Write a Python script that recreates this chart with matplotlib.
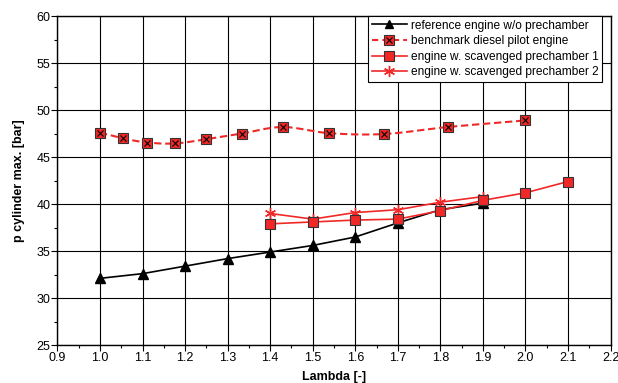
import numpy as np
import matplotlib.pyplot as plt
import matplotlib.ticker as ticker
from matplotlib.lines import Line2D

plt.rcParams["font.family"] = ["Liberation Sans", "DejaVu Sans"]

# data
ref_lambda = [1.0, 1.1, 1.2, 1.3, 1.4, 1.5, 1.6, 1.7, 1.8, 1.9]
ref_p      = [32.1, 32.6, 33.4, 34.2, 34.9, 35.6, 36.5, 38.0, 39.4, 40.1]

bench_lambda = [1.0, 1.053, 1.111, 1.176, 1.25, 1.333, 1.429, 1.538, 1.667, 1.818, 2.0]
bench_p      = [47.6, 47.0, 46.55, 46.45, 46.9, 47.5, 48.2, 47.55, 47.45, 48.2, 48.9]

pc1_lambda = [1.4, 1.5, 1.6, 1.7, 1.8, 1.9, 2.0, 2.1]
pc1_p      = [37.9, 38.1, 38.3, 38.4, 39.3, 40.4, 41.2, 42.4]

pc2_lambda = [1.4, 1.5, 1.6, 1.7, 1.8, 1.9]
pc2_p      = [39.0, 38.4, 39.1, 39.4, 40.2, 40.8]

labels = ["reference engine w/o prechamber",
          "benchmark diesel pilot engine",
          "engine w. scavenged prechamber 1",
          "engine w. scavenged prechamber 2"]

RED = "#f02828"


def catmull_rom(x, y, n=20):
    """Smooth curve through the points (drawing only, like a spreadsheet smoothed line)."""
    x = np.asarray(x, float)
    y = np.asarray(y, float)
    px = np.concatenate([[2 * x[0] - x[1]], x, [2 * x[-1] - x[-2]]])
    py = np.concatenate([[2 * y[0] - y[1]], y, [2 * y[-1] - y[-2]]])
    t = np.linspace(0, 1, n)[:, None]
    xs, ys = [], []
    for i in range(1, len(px) - 2):
        for p, out in ((px, xs), (py, ys)):
            p0, p1, p2, p3 = p[i - 1], p[i], p[i + 1], p[i + 2]
            seg = 0.5 * (2 * p1 + (-p0 + p2) * t + (2 * p0 - 5 * p1 + 4 * p2 - p3) * t ** 2
                         + (-p0 + 3 * p1 - 3 * p2 + p3) * t ** 3)
            out.append(seg.ravel())
    return np.concatenate(xs), np.concatenate(ys)


fig, ax = plt.subplots(figsize=(6.18, 3.83), dpi=100)
fig.subplots_adjust(left=0.093, right=0.988, top=0.958, bottom=0.099)

ax.plot(ref_lambda, ref_p, color="black", lw=1.2, marker="^", ms=6.5, zorder=4)

sx, sy = catmull_rom(bench_lambda, bench_p)
ax.plot(sx, sy, color=RED, lw=1.5, ls=(0, (3.5, 1.8)), zorder=4)
ax.plot(bench_lambda, bench_p, ls="none", marker="s", ms=7, mfc=RED, mec="#333333", mew=0.8, zorder=5)
ax.plot(bench_lambda, bench_p, ls="none", marker="x", ms=5, mec="black", mew=0.8, zorder=6)

ax.plot(pc1_lambda, pc1_p, color=RED, lw=1.2, marker="s", ms=7, mfc=RED, mec="#333333", mew=0.8, zorder=5)
ax.plot(pc2_lambda, pc2_p, color=RED, lw=1.2, marker=(6, 2, 0), ms=8, mec=RED, mew=1.0, zorder=4)

ax.set_xlim(0.9, 2.2)
ax.set_ylim(25, 60)
ax.xaxis.set_major_locator(ticker.MultipleLocator(0.1))
ax.xaxis.set_minor_locator(ticker.MultipleLocator(0.05))
ax.xaxis.set_major_formatter(ticker.FormatStrFormatter("%.1f"))
ax.yaxis.set_major_locator(ticker.MultipleLocator(5))
ax.yaxis.set_minor_locator(ticker.MultipleLocator(2.5))
ax.grid(True, which="major", color="black", lw=0.8)
ax.tick_params(which="major", length=4, width=0.8, labelsize=9, pad=1)
ax.tick_params(which="minor", length=2, width=0.8)
for spine in ax.spines.values():
    spine.set_linewidth(1.0)

ax.set_xlabel("Lambda [-]", fontsize=9, fontweight="bold", labelpad=5)
ax.set_ylabel("p cylinder max. [bar]", fontsize=9, fontweight="bold", labelpad=8)

handles = [
    Line2D([], [], color="black", lw=1.2, marker="^", ms=6),
    (Line2D([], [], color=RED, lw=1.5, ls=(0, (3, 2)), marker="s", ms=7, mfc=RED, mec="#333333", mew=0.8),
     Line2D([], [], ls="none", marker="x", ms=5, mec="black", mew=0.8)),
    Line2D([], [], color=RED, lw=1.2, marker="s", ms=7, mfc=RED, mec="#333333", mew=0.8),
    Line2D([], [], color=RED, lw=1.2, marker=(6, 2, 0), ms=8, mec=RED, mew=1.0),
]
leg = ax.legend(handles, labels, loc="upper right", bbox_to_anchor=(0.985, 1.0),
                fontsize=8.6, frameon=True, fancybox=False, framealpha=1,
                edgecolor="black", borderpad=0.3, labelspacing=0.3,
                handlelength=3.0, handletextpad=0.3, borderaxespad=0)
leg.get_frame().set_linewidth(0.8)
leg.set_zorder(10)

fig.savefig("out.png", dpi=100)
